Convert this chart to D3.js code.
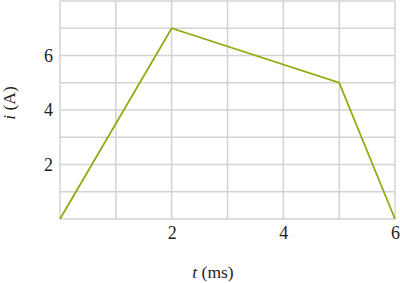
<!DOCTYPE html>
<html>
<head>
<meta charset="utf-8">
<script src="https://cdn.jsdelivr.net/npm/d3@7"></script>
<style>
  body { margin: 0; background: #fff; }
  text { font-family: "Liberation Serif", "Times New Roman", serif; fill: #222; }
</style>
</head>
<body>
<div id="chart"></div>
<script>
(function () {

  // data
  var timeMs  = [0, 2, 5, 6]
  var current = [0, 7, 5, 0]
  var xTicks  = [2, 4, 6]
  var yTicks  = [2, 4, 6]

  var margin = {top: 1, right: 5, bottom: 64, left: 60}

  var width  = 400 - margin.left - margin.right,
      height = 283 - margin.top - margin.bottom

  var svg = d3.select('#chart').append('svg')
    .attr('width', 400)
    .attr('height', 283)
    .append('g')
    .attr('transform', 'translate(' + margin.left + ',' + margin.top + ')')

  var xPositionScale = d3.scaleLinear()
    .domain([0, 6])
    .range([0, width])

  var yPositionScale = d3.scaleLinear()
    .domain([0, 8])
    .range([height, 0])

  // grid
  svg.append('g').selectAll('line')
    .data(d3.range(0, 7))
    .enter().append('line')
    .attr('x1', d => xPositionScale(d))
    .attr('x2', d => xPositionScale(d))
    .attr('y1', 0)
    .attr('y2', height)
    .attr('stroke', '#d3d3d3')
    .attr('stroke-width', 1.5)

  svg.append('g').selectAll('line')
    .data(d3.range(0, 9))
    .enter().append('line')
    .attr('x1', 0)
    .attr('x2', width)
    .attr('y1', d => yPositionScale(d))
    .attr('y2', d => yPositionScale(d))
    .attr('stroke', '#d3d3d3')
    .attr('stroke-width', 1.5)

  // the current waveform
  var line = d3.line()
    .x(d => xPositionScale(d[0]))
    .y(d => yPositionScale(d[1]))

  svg.append('path')
    .datum(d3.zip(timeMs, current))
    .attr('d', line)
    .attr('fill', 'none')
    .attr('stroke', '#8cad0f')
    .attr('stroke-width', 1.8)

  // axes, tick text only
  var xAxis = d3.axisBottom(xPositionScale)
    .tickValues(xTicks).tickFormat(d3.format('d'))
    .tickSize(0).tickPadding(7)
  var gx = svg.append('g')
    .attr('class', 'axis x-axis')
    .attr('transform', 'translate(0,' + height + ')')
    .call(xAxis)
  gx.select('.domain').remove()
  gx.selectAll('text')
    .style('font-family', '"Liberation Serif", serif')
    .style('font-size', '18px')
    .attr('fill', '#222')

  var yAxis = d3.axisLeft(yPositionScale)
    .tickValues(yTicks).tickFormat(d3.format('d'))
    .tickSize(0).tickPadding(7)
  var gy = svg.append('g')
    .attr('class', 'axis y-axis')
    .call(yAxis)
  gy.select('.domain').remove()
  gy.selectAll('text')
    .style('font-family', '"Liberation Serif", serif')
    .style('font-size', '18px')
    .attr('fill', '#222')

  // axis titles
  var xTitle = svg.append('text')
    .attr('x', 213 - margin.left)
    .attr('y', 278 - margin.top)
    .attr('text-anchor', 'middle')
    .style('font-size', '17.5px')
  xTitle.append('tspan').style('font-style', 'italic').text('t')
  xTitle.append('tspan').text(' (ms)')

  var yTitle = svg.append('text')
    .attr('transform', 'translate(' + (15 - margin.left) + ',' + (103 - margin.top) + ') rotate(-90)')
    .attr('text-anchor', 'middle')
    .style('font-size', '17.5px')
  yTitle.append('tspan').style('font-style', 'italic').text('i')
  yTitle.append('tspan').text(' (A)')

})()
</script>
</body>
</html>
